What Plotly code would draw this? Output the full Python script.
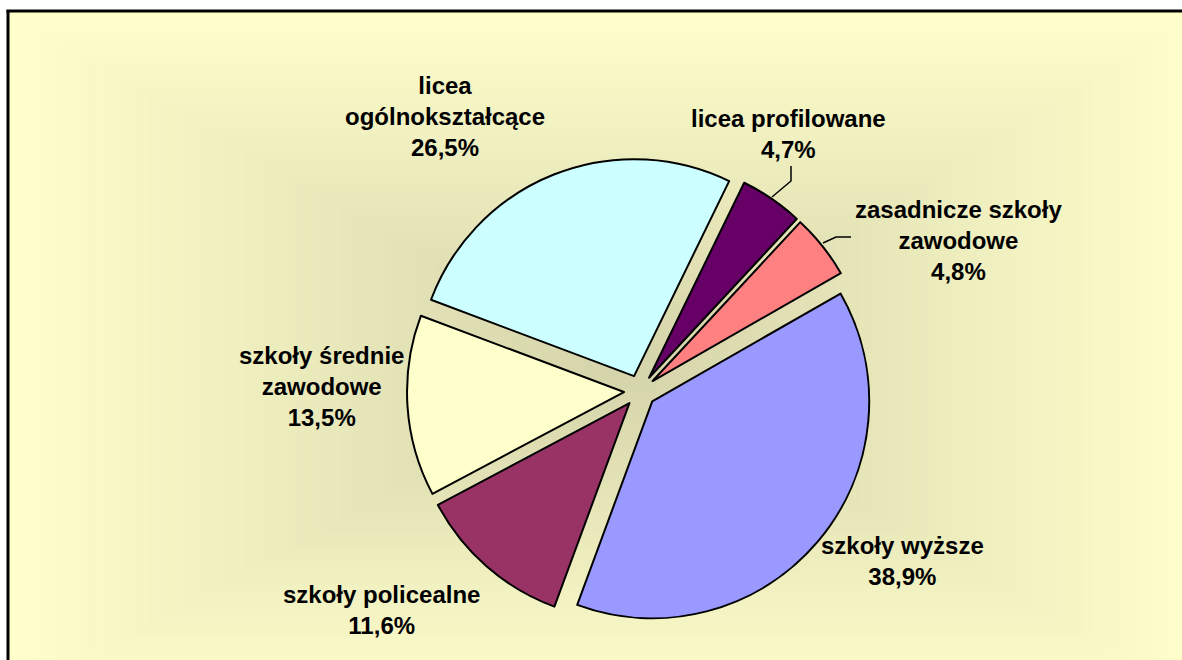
import plotly.graph_objects as go

# ---- data ----
categories = ["licea profilowane", "zasadnicze szkoły zawodowe", "szkoły wyższe",
              "szkoły policealne", "szkoły średnie zawodowe", "licea ogólnokształcące"]
shares = [4.7, 4.8, 38.9, 11.6, 13.5, 26.5]
colors = ["#660066", "#FF8080", "#9999FF", "#993366", "#FFFFCC", "#CCFFFF"]

# how each category label is wrapped (display only)
wraps = {
    "zasadnicze szkoły zawodowe": "zasadnicze szkoły<br>zawodowe",
    "szkoły średnie zawodowe": "szkoły średnie<br>zawodowe",
    "licea ogólnokształcące": "licea<br>ogólnokształcące",
}
# label centres in pixels (layout)
label_pos = [(789, 134), (958, 240), (902, 561), (381, 610), (321, 386), (445, 116)]

W, H = 1182, 660
def px(x):
    return x / W
def py(y):
    return 1 - y / H

fig = go.Figure()

fig.add_trace(go.Pie(
    labels=categories,
    values=shares,
    sort=False,
    direction="clockwise",
    rotation=26,
    pull=[0.074] * len(shares),
    marker=dict(colors=colors, line=dict(color="black", width=2)),
    textinfo="none",
    hoverinfo="label+percent",
    showlegend=False,
    domain=dict(x=[px(407), px(873)], y=[py(624), py(158)]),
))

# ---- background rectangular gradient (centred on the pie area) ----
shapes = []
cx, cy = 620, 370
x0, y0, x1, y1 = 8, 11, 1200, 700
edge = (255, 255, 204)
centre = (212, 211, 170)
N = 70
for i in range(N):
    t = 1 - i / N
    c = tuple(round(centre[k] + (edge[k] - centre[k]) * t) for k in range(3))
    rx0 = max(cx - (cx - x0) * t, x0)
    rx1 = min(cx + (x1 - cx) * t, W)
    ry0 = max(cy - (cy - y0) * t, y0)
    ry1 = min(cy + (y1 - cy) * t, H)
    shapes.append(dict(
        type="rect", xref="paper", yref="paper", layer="below",
        x0=px(rx0), x1=px(rx1), y0=py(ry1), y1=py(ry0),
        fillcolor=f"rgb{c}", line=dict(width=0),
    ))
# frame (left and top edges visible; right/bottom lie outside the picture)
shapes.append(dict(type="line", xref="paper", yref="paper", layer="below",
                   x0=px(8), x1=px(8), y0=0, y1=py(10),
                   line=dict(color="black", width=3)))
shapes.append(dict(type="line", xref="paper", yref="paper", layer="below",
                   x0=px(6.5), x1=1, y0=py(11), y1=py(11),
                   line=dict(color="black", width=3)))
# leader lines for the two small slices
leaders = [
    [(772, 197), (791, 181), (791, 166)],
    [(823, 243), (836, 237), (851, 237)],
]
for pts in leaders:
    path = "M " + " L ".join(f"{px(x)},{py(y)}" for x, y in pts)
    shapes.append(dict(type="path", xref="paper", yref="paper", path=path,
                       line=dict(color="black", width=1.5)))

annotations = []
for name, v, (lx, ly) in zip(categories, shares, label_pos):
    pct = f"{v:.1f}".replace(".", ",") + "%"
    txt = wraps.get(name, name) + "<br>" + pct
    annotations.append(dict(
        x=px(lx), y=py(ly), xref="paper", yref="paper", text=txt,
        showarrow=False, xanchor="center", yanchor="middle", align="center",
        font=dict(family="Liberation Sans, Arial, sans-serif", size=24,
                  color="black", weight="bold"),
    ))

fig.update_layout(
    width=W, height=H,
    margin=dict(l=0, r=0, t=0, b=0),
    paper_bgcolor="white",
    shapes=shapes,
    annotations=annotations,
)

fig.write_html(
    "out.html",
    config={"displayModeBar": False},
    post_script=(
        "var st=document.createElement('style');"
        "st.textContent='html,body{margin:0;padding:0;overflow:hidden;scrollbar-width:none;}"
        "::-webkit-scrollbar{display:none;width:0;height:0;}';"
        "document.head.appendChild(st);"
    ),
)
